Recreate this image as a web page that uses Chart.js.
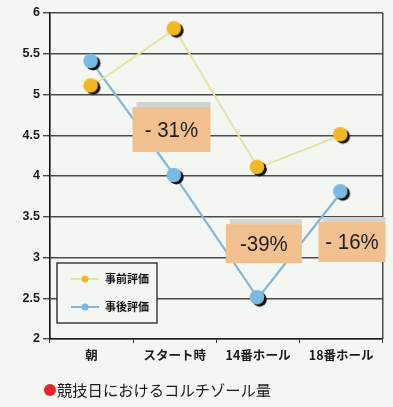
<!DOCTYPE html>
<html>
<head>
<meta charset="utf-8">
<script src="https://cdn.jsdelivr.net/npm/chart.js@4/dist/chart.umd.min.js"></script>
<style>
  html, body { margin: 0; padding: 0; background: #f4f6f1; }
  #wrap { width: 393px; height: 407px; position: relative; }
</style>
</head>
<body>
<div id="wrap"><canvas id="c" width="393" height="407"></canvas></div>
<script>
// Categories and series
const categories = ['朝', 'スタート時', '14番ホール', '18番ホール'];
const beforeValues = [5.1, 5.8, 4.1, 4.5];   // 事前評価
const afterValues  = [5.4, 4.0, 2.5, 3.8];   // 事後評価
const seriesNames = ['事前評価', '事後評価'];
const yTicks = [2, 2.5, 3, 3.5, 4, 4.5, 5, 5.5, 6];
const changeLabels = ['- 31%', '-39%', '- 16%'];
const chartTitle = '競技日におけるコルチゾール量';

const GOLD = '#f2b824', GOLD_LINE = '#e6e2a8';
const BLUE = '#79b9e2', BLUE_LINE = '#84b6d6';

// Marker: filled disc with a dark crescent to the lower right
function makeMarker(color) {
  const c = document.createElement('canvas');
  c.width = 22; c.height = 22;
  const g = c.getContext('2d');
  g.fillStyle = '#111';
  g.beginPath(); g.arc(12.6, 12.2, 7.2, 0, Math.PI * 2); g.fill();
  g.fillStyle = color;
  g.beginPath(); g.arc(10, 10, 7.3, 0, Math.PI * 2); g.fill();
  return c;
}

const boxPlugin = {
  id: 'changeBoxes',
  afterDatasetsDraw(chart) {
    const { ctx, scales: { x, y } } = chart;
    // boxes sit between categories, anchored to the axis scales
    const spots = [
      { i: 0.96, v: 4.57, w: 78, h: 45 },
      { i: 2.07, v: 3.17, w: 76, h: 39 },
      { i: 3.13, v: 3.19, w: 67, h: 40 }
    ];
    ctx.save();
    spots.forEach((s, k) => {
      const cx = x.getPixelForValue(s.i);
      const cy = y.getPixelForValue(s.v);
      ctx.fillStyle = '#cfd5d3';
      ctx.fillRect(cx - s.w / 2 + 4, cy - s.h / 2 - 5, s.w - 4, 5);
      ctx.fillStyle = '#f1c08e';
      ctx.fillRect(cx - s.w / 2, cy - s.h / 2, s.w, s.h);
      ctx.save();
      ctx.translate(cx, cy + 1);
      ctx.scale(0.93, 1);
      ctx.fillStyle = '#1e1e1e';
      ctx.font = '22px "Liberation Sans", Arial, sans-serif';
      ctx.textAlign = 'center';
      ctx.textBaseline = 'middle';
      ctx.fillText(changeLabels[k], 0, 0);
      ctx.restore();
    });
    ctx.restore();
  }
};

const legendPlugin = {
  id: 'boxLegend',
  afterDatasetsDraw(chart) {
    const { ctx } = chart;
    const left = chart.chartArea.left + 7, top = 263, w = 100, h = 60;
    ctx.save();
    ctx.fillStyle = '#f4f6f1';
    ctx.fillRect(left, top, w, h);
    ctx.strokeStyle = '#222';
    ctx.lineWidth = 1.3;
    ctx.strokeRect(left, top, w, h);
    const rows = [
      { y: top + 16, line: GOLD_LINE, dot: GOLD },
      { y: top + 44, line: BLUE_LINE, dot: BLUE }
    ];
    rows.forEach((r, k) => {
      ctx.strokeStyle = r.line;
      ctx.lineWidth = 2;
      ctx.beginPath(); ctx.moveTo(left + 14, r.y); ctx.lineTo(left + 42, r.y); ctx.stroke();
      ctx.fillStyle = r.dot;
      ctx.beginPath(); ctx.arc(left + 28, r.y, 3.5, 0, Math.PI * 2); ctx.fill();
      ctx.fillStyle = '#111';
      ctx.font = 'bold 11px "Noto Sans CJK JP", sans-serif';
      ctx.textAlign = 'left';
      ctx.textBaseline = 'middle';
      ctx.fillText(seriesNames[k], left + 48, r.y);
    });
    ctx.restore();
  }
};

const titlePlugin = {
  id: 'footTitle',
  afterDraw(chart) {
    const { ctx } = chart;
    ctx.save();
    ctx.fillStyle = '#e3262b';
    ctx.beginPath(); ctx.arc(50, 390, 6, 0, Math.PI * 2); ctx.fill();
    ctx.fillStyle = '#1a1a1a';
    ctx.font = '15.3px "Noto Sans CJK JP", sans-serif';
    ctx.textAlign = 'left';
    ctx.textBaseline = 'middle';
    ctx.fillText(chartTitle, 57, 390);
    ctx.restore();
  }
};

const bgPlugin = {
  id: 'bg',
  beforeDraw(chart) {
    const { ctx } = chart;
    ctx.save();
    ctx.fillStyle = '#f4f6f1';
    ctx.fillRect(0, 0, chart.width, chart.height);
    ctx.restore();
  }
};

new Chart(document.getElementById('c'), {
  type: 'line',
  data: {
    labels: categories,
    datasets: [
      {
        label: seriesNames[0], data: beforeValues,
        borderColor: GOLD_LINE, borderWidth: 2,
        pointStyle: makeMarker(GOLD), pointRadius: 8
      },
      {
        label: seriesNames[1], data: afterValues,
        borderColor: BLUE_LINE, borderWidth: 2.2,
        pointStyle: makeMarker(BLUE), pointRadius: 8
      }
    ]
  },
  options: {
    responsive: false,
    animation: false,
    layout: { padding: { top: 13, right: 8, bottom: 0, left: 0 } },
    plugins: { legend: { display: false }, tooltip: { enabled: false } },
    scales: {
      x: {
        offset: true,
        afterFit(s) { s.height = 68; },
        grid: { display: true, drawOnChartArea: false, tickLength: 4, color: '#333', offset: true },
        border: { color: '#222', width: 1.5 },
        ticks: {
          color: '#1a1a1a', padding: 5,
          font: { family: '"Noto Sans CJK JP", sans-serif', weight: 'bold', size: 12.5 }
        }
      },
      y: {
        min: 2, max: 6,
        afterFit(s) { s.width = 50; },
        afterBuildTicks(s) { s.ticks = yTicks.map(v => ({ value: v })); },
        grid: { color: '#4a4a4a', lineWidth: 1.4, tickLength: 7 },
        border: { color: '#111', width: 1.6 },
        ticks: {
          color: '#1a1a1a', padding: 3,
          callback: v => String(v),
          font: { family: '"Liberation Sans", Arial, sans-serif', weight: 'bold', size: 12.5 }
        }
      }
    }
  },
  plugins: [bgPlugin, boxPlugin, legendPlugin, titlePlugin,
    {
      id: 'rightEdge',
      beforeDatasetsDraw(chart) {
        const { ctx, chartArea: a } = chart;
        ctx.save();
        ctx.strokeStyle = '#333'; ctx.lineWidth = 1.3;
        ctx.beginPath(); ctx.moveTo(a.right, a.top); ctx.lineTo(a.right, a.bottom); ctx.stroke();
        ctx.restore();
      }
    }]
});
</script>
</body>
</html>
